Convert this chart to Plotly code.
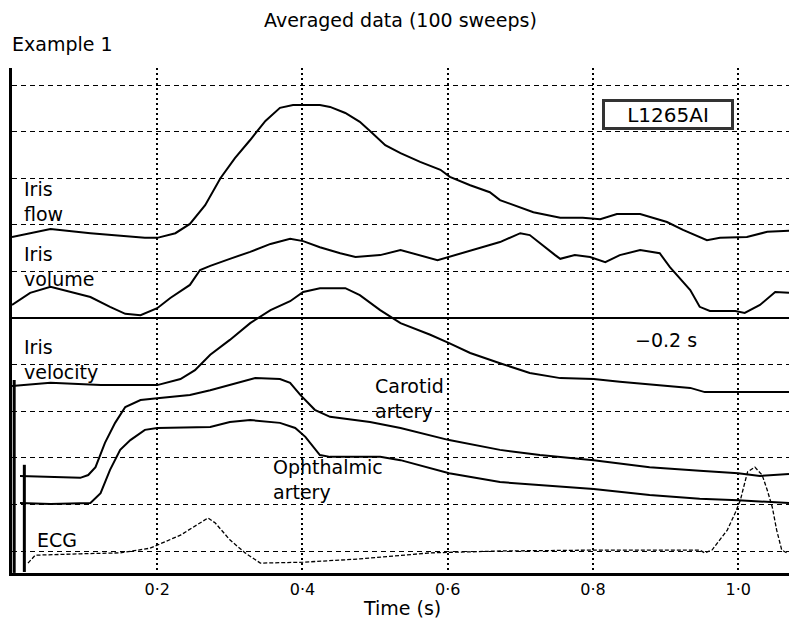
import plotly.graph_objects as go

# ---------------- data (time in s, amplitude in grid divisions) ----------------
flow_t = [0.000, 0.053, 0.108, 0.149, 0.183, 0.200, 0.225, 0.245, 0.266, 0.287, 0.307, 0.328,
          0.349, 0.369, 0.387, 0.424, 0.438, 0.459, 0.479, 0.496, 0.514, 0.535, 0.562, 0.590,
          0.603, 0.631, 0.658, 0.672, 0.718, 0.755, 0.786, 0.810, 0.833, 0.865, 0.902, 0.924,
          0.957, 0.975, 1.012, 1.040, 1.070]
flow_v = [6.74, 6.91, 6.82, 6.76, 6.72, 6.72, 6.82, 7.02, 7.42, 8.00, 8.43, 8.82,
          9.23, 9.51, 9.57, 9.57, 9.53, 9.40, 9.21, 8.97, 8.71, 8.54, 8.35, 8.18,
          8.03, 7.85, 7.70, 7.53, 7.27, 7.15, 7.15, 7.12, 7.23, 7.23, 7.06, 6.89,
          6.67, 6.72, 6.74, 6.85, 6.87]

vol_t = [0.000, 0.025, 0.053, 0.080, 0.108, 0.135, 0.156, 0.177, 0.200, 0.218, 0.245, 0.259,
         0.273, 0.300, 0.328, 0.356, 0.383, 0.401, 0.424, 0.452, 0.473, 0.507, 0.535, 0.586,
         0.602, 0.645, 0.672, 0.700, 0.713, 0.748, 0.755, 0.775, 0.796, 0.817, 0.837, 0.865,
         0.892, 0.906, 0.934, 0.947, 0.961, 0.996, 1.009, 1.030, 1.051, 1.070]
vol_v = [5.28, 5.54, 5.67, 5.56, 5.45, 5.24, 5.09, 5.06, 5.21, 5.43, 5.71, 6.03,
         6.12, 6.27, 6.42, 6.59, 6.70, 6.65, 6.52, 6.39, 6.31, 6.35, 6.46, 6.24,
         6.31, 6.50, 6.63, 6.82, 6.78, 6.35, 6.27, 6.35, 6.31, 6.20, 6.35, 6.46,
         6.39, 6.09, 5.60, 5.24, 5.15, 5.15, 5.11, 5.28, 5.56, 5.54]

vel_t = [0.000, 0.053, 0.122, 0.200, 0.232, 0.252, 0.273, 0.300, 0.328, 0.356, 0.383, 0.401,
         0.424, 0.459, 0.479, 0.507, 0.535, 0.576, 0.602, 0.631, 0.672, 0.713, 0.755, 0.801,
         0.837, 0.892, 0.934, 0.954, 1.070]
vel_v = [3.54, 3.61, 3.56, 3.56, 3.69, 3.88, 4.21, 4.53, 4.89, 5.17, 5.36, 5.56,
         5.64, 5.64, 5.49, 5.17, 4.89, 4.64, 4.46, 4.25, 4.03, 3.82, 3.71, 3.69,
         3.63, 3.56, 3.50, 3.41, 3.41]

car_t = [0.011, 0.053, 0.094, 0.105, 0.115, 0.128, 0.142, 0.156, 0.177, 0.200, 0.245, 0.273,
         0.314, 0.335, 0.369, 0.383, 0.397, 0.417, 0.438, 0.493, 0.535, 0.602, 0.672, 0.727,
         0.801, 0.878, 0.947, 1.000, 1.030, 1.070]
car_v = [1.61, 1.59, 1.57, 1.63, 1.80, 2.32, 2.75, 3.09, 3.24, 3.28, 3.35, 3.45,
         3.63, 3.71, 3.69, 3.61, 3.35, 3.03, 2.88, 2.77, 2.64, 2.38, 2.17, 2.06,
         1.95, 1.80, 1.72, 1.67, 1.61, 1.65]

oph_t = [0.011, 0.053, 0.108, 0.122, 0.135, 0.149, 0.163, 0.183, 0.200, 0.273, 0.300, 0.328,
         0.369, 0.390, 0.404, 0.424, 0.438, 0.507, 0.535, 0.602, 0.672, 0.801, 0.878, 0.947,
         1.000, 1.070]
oph_v = [1.03, 1.01, 1.03, 1.24, 1.74, 2.17, 2.38, 2.60, 2.64, 2.66, 2.77, 2.81,
         2.75, 2.64, 2.45, 2.06, 2.02, 2.02, 1.95, 1.67, 1.48, 1.33, 1.20, 1.12,
         1.09, 1.03]

ecg_t = [0.022, 0.032, 0.094, 0.149, 0.190, 0.200, 0.232, 0.270, 0.280, 0.300, 0.321, 0.342,
         0.401, 0.479, 0.535, 0.576, 0.672, 0.810, 0.947, 0.954, 0.964, 0.985, 0.996, 1.003,
         1.009, 1.013, 1.023, 1.033, 1.040, 1.047, 1.053, 1.060, 1.067]
ecg_v = [-0.26, -0.09, -0.06, -0.04, 0.06, 0.13, 0.34, 0.71, 0.60, 0.24, -0.04, -0.26,
         -0.24, -0.17, -0.09, -0.04, 0.00, 0.02, 0.02, -0.04, 0.02, 0.45, 0.82, 1.09,
         1.46, 1.70, 1.80, 1.63, 1.31, 0.94, 0.45, 0.02, -0.04]

artifact_t = [0.003, 0.003, None, 0.017, 0.017]
artifact_v = [3.67, -0.47, None, 1.85, -0.45]

time_ticks = [0.2, 0.4, 0.6, 0.8, 1.0]
time_labels = ["0·2", "0·4", "0·6", "0·8", "1·0"]
grid_levels = [0, 1, 2, 3, 4, 5, 6, 7, 8, 9, 10]
baseline_level = 5

FONT = "DejaVu Sans"

fig = go.Figure()
for t, v in [(flow_t, flow_v), (vol_t, vol_v), (vel_t, vel_v), (car_t, car_v), (oph_t, oph_v)]:
    fig.add_trace(go.Scatter(x=t, y=v, mode="lines", line=dict(color="black", width=2),
                             hoverinfo="skip", showlegend=False))
fig.add_trace(go.Scatter(x=ecg_t, y=ecg_v, mode="lines",
                         line=dict(color="black", width=1.3, dash="4px,2px"),
                         hoverinfo="skip", showlegend=False))
fig.add_trace(go.Scatter(x=artifact_t, y=artifact_v, mode="lines",
                         line=dict(color="black", width=3), connectgaps=False,
                         hoverinfo="skip", showlegend=False))

fig.add_shape(type="line", xref="paper", x0=0, x1=1, yref="y", y0=baseline_level, y1=baseline_level,
              line=dict(color="black", width=2), layer="below")

labels = [
    ("Iris<br>flow", 0.014, 7.50),
    ("Iris<br>volume", 0.014, 6.11),
    ("Iris<br>velocity", 0.014, 4.11),
    ("Carotid<br>artery", 0.497, 3.27),
    ("Ophthalmic<br>artery", 0.356, 1.53),
    ("ECG", 0.032, 0.24),
    ("−0.2 s", 0.855, 4.53),
]
for txt, x, y in labels:
    fig.add_annotation(text=txt, x=x, y=y, xref="x", yref="y", xanchor="left", yanchor="middle",
                       align="left", showarrow=False, font=dict(family=FONT, size=19, color="black"))

fig.add_annotation(text="L1265AI", x=0.903, y=9.36, xref="x", yref="y", showarrow=False,
                   font=dict(family=FONT, size=20, color="black"), bgcolor="white",
                   bordercolor="#333333", borderwidth=3, borderpad=0, width=126, height=25)

fig.add_annotation(text="Averaged data (100 sweeps)", x=0.5, y=1.095, xref="paper", yref="paper",
                   xanchor="center", yanchor="middle", showarrow=False,
                   font=dict(family=FONT, size=19, color="black"))
fig.add_annotation(text="Example 1", x=-0.003, y=1.0475, xref="paper", yref="paper",
                   xanchor="left", yanchor="middle", showarrow=False,
                   font=dict(family=FONT, size=19, color="black"))
fig.add_annotation(text="Time (s)", x=0.502, y=-0.069, xref="paper", yref="paper",
                   xanchor="center", yanchor="middle", showarrow=False,
                   font=dict(family=FONT, size=19, color="black"))

fig.update_layout(
    width=789, height=618,
    margin=dict(l=12, r=0, t=68, b=45, autoexpand=False),
    paper_bgcolor="white", plot_bgcolor="white",
    font=dict(family=FONT, color="black"),
    xaxis=dict(range=[0, 1.07], tickvals=time_ticks, ticktext=time_labels,
               tickfont=dict(family=FONT, size=16, color="black"),
               showgrid=True, gridcolor="black", gridwidth=1.5, griddash="2px,3px",
               showline=True, linecolor="black", linewidth=2.5, zeroline=False,
               ticks="", fixedrange=True, automargin=False),
    yaxis=dict(range=[-0.472, 10.365], tickvals=grid_levels, showticklabels=False,
               showgrid=True, gridcolor="black", gridwidth=1.3, griddash="5px,4px",
               showline=True, linecolor="black", linewidth=2.5, zeroline=False,
               ticks="", fixedrange=True, automargin=False),
)

fig.write_html("out.html", config={"displayModeBar": False},
               post_script="document.body.style.margin='0';document.body.style.overflow='hidden';")
